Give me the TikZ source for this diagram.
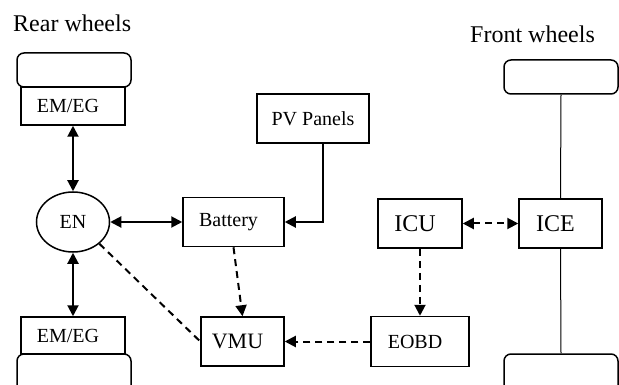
\documentclass[tikz,border=0pt]{standalone}
\usepackage{fontspec}
\setmainfont{Liberation Serif}
\usetikzlibrary{arrows.meta,shapes.geometric}
\begin{document}
\begin{tikzpicture}[x=1pt,y=-1pt,
  box/.style={draw,line width=1.5pt,inner sep=0pt,font=\fontsize{20}{24}\selectfont},
  lefttext/.style={execute at end node={\hspace*{10pt}}},
  wheel/.style={draw,line width=1.5pt,rounded corners=7pt,minimum width=114pt,minimum height=34pt,inner sep=0pt},
  heading/.style={anchor=base west,inner sep=0pt,font=\fontsize{24}{28}\selectfont},
  conn/.style={line width=2pt},
  dconn/.style={line width=2pt,dash pattern=on 7pt off 5pt},
  onetip/.style={-{Triangle[length=11pt,width=11pt]}},
  twotip/.style={{Triangle[length=11pt,width=11pt]}-{Triangle[length=11pt,width=11pt]}},
  axle/.style={line width=1pt}
]
\clip (0,0) rectangle (619,385);
\node[heading] (rw) at (13,32) {Rear wheels};
\node[heading] (fw) at (470,43) {Front wheels};

\node[wheel] (rwt) at (74,70) {};
\node[box,lefttext,minimum width=104pt,minimum height=38pt] (emt) at (73,106) {EM/EG};
\node[ellipse,draw,line width=1.5pt,inner sep=0pt,minimum width=73pt,minimum height=60pt,font=\fontsize{20}{24}\selectfont] (en) at (73,222) {EN};
\node[box,lefttext,minimum width=104pt,minimum height=37pt] (emb) at (73,335.5) {EM/EG};
\node[wheel,minimum height=40pt] (rwb) at (74,374) {};

\node[box,lefttext,minimum width=101pt,minimum height=49pt] (bat) at (233.5,222) {Battery};
\node[box,minimum width=112pt,minimum height=49pt] (pv) at (313,118.5) {PV Panels};
\node[box,lefttext,minimum width=83pt,minimum height=49pt,font=\fontsize{22}{26}\selectfont] (vmu) at (242.5,341.5) {VMU};

\node[box,lefttext,minimum width=84pt,minimum height=49pt,font=\fontsize{24}{28}\selectfont] (icu) at (420,223.5) {ICU};
\node[box,lefttext,minimum width=83pt,minimum height=49pt,font=\fontsize{24}{28}\selectfont] (ice) at (560.5,223.5) {ICE};
\node[box,lefttext,minimum width=98pt,minimum height=50pt] (eobd) at (420,341.5) {EOBD};
\node[wheel] (fwt) at (561,77) {};
\node[wheel,minimum height=40pt] (fwb) at (561,374) {};

\draw[conn,twotip] (emt.south) -- (en.north);
\draw[conn,twotip] (en.south) -- (emb.north);
\draw[conn,twotip] (en.east) -- (bat.west);
\draw[conn,onetip] ([xshift=10pt]pv.south) |- (bat.east);
\draw[dconn] (en.south east) -- (vmu.west);
\draw[dconn,onetip] (bat.south) -- (vmu.north);
\draw[dconn,twotip] (icu.east) -- (ice.west);
\draw[dconn,onetip] (icu.south) -- (eobd.north);
\draw[dconn,onetip] (eobd.west) -- (vmu.east);
\draw[axle] (fwt.south) -- (ice.north);
\draw[axle] (ice.south) -- (fwb.north);
\end{tikzpicture}
\end{document}
